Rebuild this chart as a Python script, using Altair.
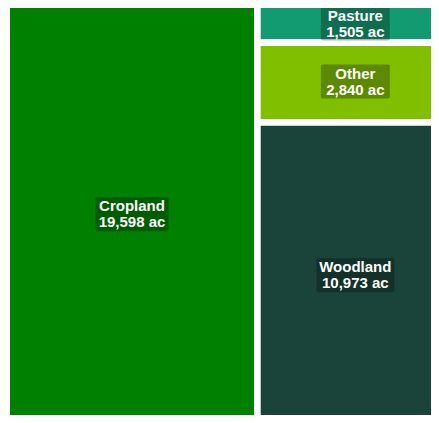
import altair as alt
import pandas as pd

categories = ["Cropland", "Pasture", "Other", "Woodland"]
acres = [19598, 1505, 2840, 10973]
colors = ["#008000", "#129a70", "#80be00", "#1a4439"]
box_w = [73, 69, 69, 78]
nudge = [0, 3, 0, 0]
box_h = 34

# slice-and-dice treemap layout in unit space
total = sum(acres)
crop_frac = acres[0] / total
right_total = sum(acres[1:])
rows = [dict(cat=categories[0], x0=0.0, x1=crop_frac, y0=0.0, y1=1.0)]
yy = 0.0
for c, a in zip(categories[1:], acres[1:]):
    h = a / right_total
    rows.append(dict(cat=c, x0=crop_frac, x1=1.0, y0=yy, y1=yy + h))
    yy += h
df = pd.DataFrame(rows)
df["acres"] = acres
df["name"] = categories
df["amount"] = [f"{a:,} ac" for a in acres]
df["cx"] = (df.x0 + df.x1) / 2
df["cy"] = (df.y0 + df.y1) / 2

x_scale = alt.Scale(domain=[0.003022, 0.950074], nice=False, zero=False)
y_scale = alt.Scale(domain=[0.017462, 0.965076], nice=False, zero=False, reverse=True)

base = alt.Chart(df)
X = alt.X("cx:Q", scale=x_scale, axis=None)
Y = alt.Y("cy:Q", scale=y_scale, axis=None)

cells = base.mark_rect(stroke="white", strokeWidth=6.7).encode(
    x=alt.X("x0:Q", scale=x_scale, axis=None),
    x2="x1:Q",
    y=alt.Y("y0:Q", scale=y_scale, axis=None),
    y2="y1:Q",
    color=alt.Color("cat:N", scale=alt.Scale(domain=categories, range=colors), legend=None),
)

text_style = dict(color="white", font="Liberation Sans", fontSize=15,
                  fontWeight="bold", baseline="middle", align="center")

layers = [cells]
for c, w, n in zip(categories, box_w, nudge):
    sub = base.transform_filter(alt.datum.cat == c)
    layers.append(
        sub.mark_rect(color="black", opacity=0.28, cornerRadius=2,
                      xOffset=-w / 2, x2Offset=w / 2,
                      yOffset=-box_h / 2 - 1 + n, y2Offset=box_h / 2 - 1 + n)
        .encode(x=X, x2="cx:Q", y=Y, y2="cy:Q")
    )
    layers.append(sub.mark_text(dy=-9 + n, **text_style).encode(x=X, y=Y, text="name:N"))
    layers.append(sub.mark_text(dy=7 + n, **text_style).encode(x=X, y=Y, text="amount:N"))

chart = alt.layer(*layers).properties(
    width=423, height=407, autosize="none", padding=0
).configure_view(strokeWidth=0)

chart.save("out.html", embed_options={"renderer": "svg", "actions": False})
